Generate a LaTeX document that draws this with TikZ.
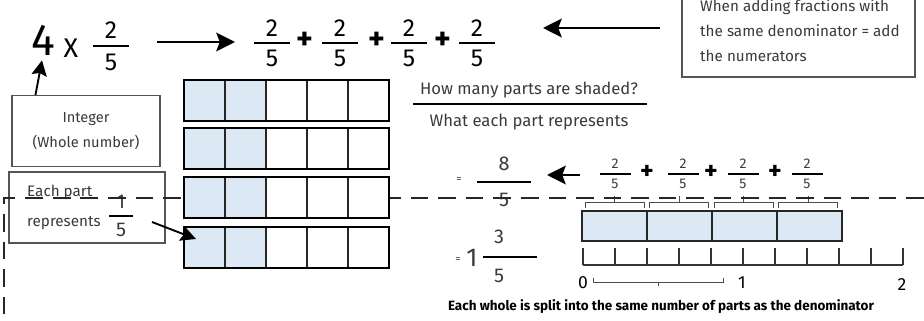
\documentclass[tikz,border=0pt]{standalone}
\usepackage{fontspec}
\setmainfont{Fira Sans}
\usetikzlibrary{arrows.meta}
\definecolor{cellblue}{HTML}{DDE8F5}
\definecolor{inkgray}{HTML}{3A3A3A}
\definecolor{boxgray}{HTML}{555555}
\newcommand\fsz[2]{\fontsize{#1}{#2}\selectfont}
% fraction: name, x, y of bar, half width, offset, style, numerator, denominator
\newcommand\handfrac[8]{%
 \draw[fracbar] (#2-#4,#3) -- (#2+#4,#3);
 \node[#6] (#1n) at (#2,#3-#5) {#7};
 \node[#6] (#1d) at (#2,#3+#5) {#8};}

\begin{document}
\begin{tikzpicture}[x=0.03cm,y=-0.03cm,>=Stealth,
 fracbar/.style={line width=1.6pt},
 bigdigit/.style={inner sep=0pt,font=\fsz{21}{21}},
 graybig/.style={inner sep=0pt,text=inkgray,font=\fsz{17}{17}},
 graysmall/.style={inner sep=0pt,text=inkgray,font=\fsz{12}{12}},
 plussign/.style={inner sep=0pt,font=\bfseries\fsz{27}{27}},
 plussmall/.style={inner sep=0pt,font=\bfseries\fsz{22}{22}},
 notebox/.style={draw=boxgray,line width=0.9pt,inner sep=0pt},
 bigarrow/.style={-{Stealth[length=16pt,width=16pt,inset=3pt]},line width=1.8pt},
 midarrow/.style={-{Stealth[length=13pt,width=13pt,inset=2pt]},line width=1.6pt},
 cellline/.style={draw=black!85,line width=1.5pt},
 barframe/.style={draw=black,line width=2.4pt},
 blockframe/.style={draw=black!85,line width=1.9pt},
 bracket/.style={draw=black!70,line width=0.8pt},
 tick/.style={draw=black!80,line width=1.1pt},
 dashline/.style={draw=black!85,line width=2.2pt,dash pattern=on 15pt off 8.5pt},
 graytext/.style={inner sep=0pt,text=inkgray}]
\useasboundingbox (0,0) rectangle (924,321);
\clip (0,0) rectangle (924,321);

% 4 x 2/5 and the repeated addition
\node[inner sep=0pt,font=\fsz{38}{38}] (four) at (43,40) {4};
\node[inner sep=0pt,font=\fsz{23}{23}] (times) at (71,48) {X};
\handfrac{ex}{111}{46}{18}{16}{bigdigit}{2}{5}
\coordinate (sumArrA) at (157,42);
\coordinate (sumArrB) at (235,42);
\draw[bigarrow] (sumArrA) -- (sumArrB);
\foreach \k/\cx in {1/272,2/340,3/409,4/477}
 {\handfrac{sum\k}{\cx}{43}{18}{15}{bigdigit}{2}{5}}
\foreach \k/\px in {1/305,2/377,3/443}
 \node[plussign] (plus\k) at (\px,41) {+};

% note about same denominators
\node[notebox,minimum width=6.99cm,minimum height=2.82cm] (note) at (798.5,30) {};
\node[graytext,anchor=north west,align=left,font=\fsz{13}{21.7}] (notetext) at (700,-1)
 {When adding fractions with\\the same denominator = add\\the numerators};
\coordinate (noteArrA) at (660,28);
\coordinate (noteArrB) at (543,28);
\draw[bigarrow] (noteArrA) -- (noteArrB);

% integer label
\node[notebox,minimum width=4.44cm,minimum height=2.13cm,align=center,
 text=inkgray,font=\fsz{12.5}{21}] (intbox) at (86,131) {Integer\\(Whole number)};
\draw[midarrow] ([xshift=0.72cm]intbox.north west) -- ([xshift=-0.03cm,yshift=-0.15cm]four.south);

% each part label
\node[notebox,minimum width=4.68cm,minimum height=2.13cm] (eachbox) at (87,207.5) {};
\node[graytext,anchor=base west,font=\fsz{13}{13}] (eachA) at (27,197) {Each part};
\node[graytext,anchor=base west,font=\fsz{13}{13}] (eachB) at (27,227) {represents};
\handfrac{each}{121}{216}{12}{14}{graybig}{1}{5}

% fraction in words
\node[graytext,anchor=base,font=\fsz{14.2}{14.2}] (howmany) at (529,95) {How many parts are shaded?};
\draw[fracbar] (413,104) -- (647,104);
\node[graytext,anchor=base,font=\fsz{14.2}{14.2}] (whateach) at (529,127) {What each part represents};

% sum of the parts
\node[graysmall,font=\fsz{9}{9}] (eqA) at (459,180) {=};
\handfrac{eight}{504}{182}{27}{18}{graybig}{8}{5}
\coordinate (sumBackA) at (580,175);
\coordinate (sumBackB) at (547,175);
\draw[bigarrow] (sumBackA) -- (sumBackB);
\foreach \k/\cx in {1/615,2/683,3/743,4/807}
 {\handfrac{part\k}{\cx}{174}{15.5}{10}{graysmall}{2}{5}}
\foreach \k/\px in {1/647,2/711,3/775}
 \node[plussmall] (pplus\k) at (\px,172) {+};

% mixed number
\node[graysmall,font=\fsz{9}{9}] (eqB) at (458,260) {=};
\node[graybig,font=\fsz{22}{22}] (mixedone) at (472,258) {1};
\draw[fracbar] (483,257) -- (537,257);
\node[graybig] (mixedn) at (499,237) {3};
\node[graybig] (mixedd) at (499,276) {5};

% braces over the parts
\foreach \k in {0,...,3}
 \draw[bracket] (585+64.5*\k,208) -- (585+64.5*\k,202) -- (644+64.5*\k,202) -- (644+64.5*\k,208)
  (614.5+64.5*\k,202) -- (614.5+64.5*\k,196);

% dashed divider
\draw[dashline] (924,198) -- (4,198) -- (4,321);

% bar models
\foreach \r/\yt in {1/80,2/128,3/177,4/227}{
 \fill[white] (184,\yt) rectangle (389,\yt+41);
 \fill[cellblue] (184,\yt) rectangle (266,\yt+41);
 \foreach \c in {1,...,4} \draw[cellline] (184+41*\c,\yt) -- (184+41*\c,\yt+41);
 \draw[barframe] (184,\yt) rectangle (389,\yt+41);
}
\coordinate (eachArrA) at (152,222);
\coordinate (eachArrB) at (196,239);
\draw[midarrow] (eachArrA) -- (eachArrB);

% number line
\foreach \k in {0,...,3}
 \draw[blockframe,fill=cellblue] (582+65*\k,211) rectangle (647+65*\k,241);
\foreach \k in {0,...,10}
 \draw[tick] (583+32*\k,248) -- (583+32*\k,265);
\draw[tick] (583,265) -- (903,265);
\node[inner sep=0pt,font=\fsz{15}{15}] (zero) at (583,283) {0};
\node[inner sep=0pt,font=\fsz{15}{15}] (one) at (742,283) {1};
\node[inner sep=0pt,font=\fsz{15}{15}] (two) at (902,285) {2};
\draw[bracket] (593,278) -- (593,282) -- (723,282) -- (723,278) (658,282) -- (658,286);
\node[inner sep=0pt,font=\bfseries\fsz{11.5}{11.5}] (wholetext) at (661,307)
 {Each whole is split into the same number of parts as the denominator};
\end{tikzpicture}
\end{document}
